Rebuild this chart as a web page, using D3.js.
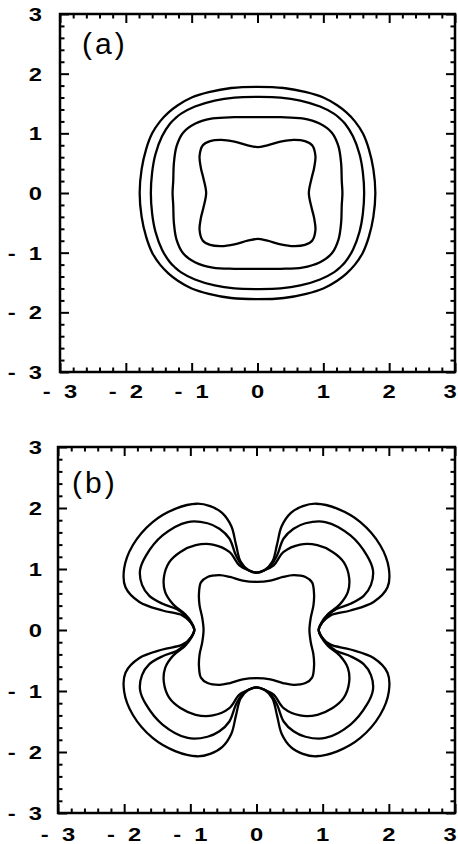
<!DOCTYPE html>
<html>
<head>
<meta charset="utf-8">
<script src="https://cdn.jsdelivr.net/npm/d3@7"></script>
<style>
  body { margin: 0; background: #fff; }
  svg { display: block; }
</style>
</head>
<body>
<svg id="chart" width="458" height="844"></svg>
<script>
// Axis ticks and labels (both panels share the same range -3..3)
const majorTicks = [-3, -2, -1, 0, 1, 2, 3];
const tickLabels = ["-  3", "-  2", "-  1", "0", "1", "2", "3"];
const panelLabels = ["(a)", "(b)"];

// Contour curves, first quadrant only, listed from the +y axis round to the +x axis.
// The full closed curve is obtained by reflecting about both axes.

// Panel (a): four nested rounded contours
const aContour1 = [[0, 0.77], [0.15, 0.80], [0.35, 0.86], [0.55, 0.89], [0.72, 0.87], [0.83, 0.80],
                   [0.88, 0.62], [0.86, 0.42], [0.82, 0.24], [0.78, 0]];
const aContour2 = [[0, 1.27], [0.35, 1.27], [0.68, 1.25], [0.95, 1.16], [1.13, 1.01], [1.23, 0.78],
                   [1.27, 0.50], [1.28, 0.20], [1.29, 0]];
const aContour3 = [[0, 1.61], [0.35, 1.60], [0.65, 1.55], [0.95, 1.45], [1.16, 1.33], [1.25, 1.25],
                   [1.33, 1.16], [1.45, 0.95], [1.55, 0.65], [1.60, 0.35], [1.62, 0]];
const aContour4 = [[0, 1.78], [0.40, 1.76], [0.74, 1.69], [1.00, 1.60], [1.21, 1.47], [1.35, 1.35],
                   [1.48, 1.20], [1.60, 1.00], [1.69, 0.74], [1.76, 0.40], [1.79, 0]];

// Panel (b): inner contour plus three four-lobed contours pinched on the axes
const bContour1 = [[0, 0.79], [0.21, 0.81], [0.40, 0.87], [0.56, 0.90], [0.74, 0.87], [0.84, 0.78],
                   [0.87, 0.58], [0.86, 0.40], [0.82, 0.20], [0.80, 0]];
const bContour2 = [[0, 0.94], [0.12, 0.98], [0.26, 1.06], [0.41, 1.28], [0.66, 1.40], [0.92, 1.39],
                   [1.15, 1.28], [1.32, 1.11], [1.40, 0.86], [1.38, 0.62], [1.26, 0.42], [1.08, 0.26],
                   [0.98, 0.12], [0.94, 0]];
const bContour3 = [[0, 0.94], [0.12, 0.98], [0.22, 1.06], [0.31, 1.22], [0.41, 1.50], [0.56, 1.66],
                   [0.74, 1.75], [1.04, 1.77], [1.42, 1.55], [1.67, 1.22], [1.76, 0.98], [1.73, 0.74],
                   [1.62, 0.56], [1.42, 0.43], [1.20, 0.34], [1.06, 0.22], [0.98, 0.10], [0.94, 0]];
const bContour4 = [[0, 0.94], [0.12, 0.98], [0.24, 1.12], [0.31, 1.40], [0.38, 1.70], [0.52, 1.92],
                   [0.70, 2.03], [0.90, 2.07], [1.22, 1.99], [1.57, 1.77], [1.87, 1.39], [2.00, 1.01],
                   [1.98, 0.70], [1.77, 0.46], [1.42, 0.32], [1.12, 0.24], [0.99, 0.12], [0.94, 0]];

// Build a closed loop from a first-quadrant arc by reflection.
function fullLoop(q) {
  const q1 = q;
  const q4 = q.slice().reverse().map(([x, y]) => [x, -y]).slice(1);
  const q3 = q.map(([x, y]) => [-x, -y]).slice(1);
  const q2 = q.slice().reverse().map(([x, y]) => [-x, y]).slice(1, -1);
  return q1.concat(q4, q3, q2);
}

const svg = d3.select("#chart");
const minorTicks = d3.range(-15, 16).map(i => i / 5).filter(v => !Number.isInteger(v));

const panels = [
  { left: 60, right: 455, top: 14, bottom: 372, xLabelY: 398,
    curves: [aContour1, aContour2, aContour3, aContour4],
    label: panelLabels[0], labelX: 82, labelY: 54 },
  { left: 58, right: 455, top: 447, bottom: 813, xLabelY: 841,
    curves: [bContour1, bContour2, bContour3, bContour4],
    label: panelLabels[1], labelX: 72, labelY: 493 }
];

const tickFont = "'Liberation Sans', Arial, Helvetica, sans-serif";

panels.forEach(p => {
  const x = d3.scaleLinear().domain([-3, 3]).range([p.left, p.right]);
  const y = d3.scaleLinear().domain([-3, 3]).range([p.bottom, p.top]);
  const g = svg.append("g");

  const line = d3.line()
    .x(d => x(d[0]))
    .y(d => y(d[1]))
    .curve(d3.curveCatmullRomClosed.alpha(0.5));

  g.selectAll("path.contour")
    .data(p.curves)
    .join("path")
    .attr("class", "contour")
    .attr("d", d => line(fullLoop(d)))
    .attr("fill", "none")
    .attr("stroke", "#000")
    .attr("stroke-width", 2.3)
    .attr("stroke-linejoin", "round");

  // Inward ticks on all four sides: majors every 1, minors every 0.2
  const axes = [
    [d3.axisBottom(x), p.bottom, "y"],
    [d3.axisTop(x), p.top, "y"],
    [d3.axisLeft(y), p.left, "x"],
    [d3.axisRight(y), p.right, "x"]
  ];
  axes.forEach(([axis, pos, dir]) => {
    [[majorTicks, 9], [minorTicks, 4.5]].forEach(([vals, len]) => {
      const a = g.append("g")
        .attr("transform", dir === "y" ? `translate(0,${pos})` : `translate(${pos},0)`)
        .call(axis.tickValues(vals).tickSize(-len).tickSizeOuter(0).tickFormat(""));
      a.select(".domain").remove();
      a.selectAll(".tick line").attr("stroke", "#000").attr("stroke-width", 2);
    });
  });

  g.append("rect")
    .attr("x", p.left).attr("y", p.top)
    .attr("width", p.right - p.left).attr("height", p.bottom - p.top)
    .attr("fill", "none").attr("stroke", "#000").attr("stroke-width", 2.5);

  // Tick labels along the bottom; the last one is kept inside the page edge
  g.selectAll("text.xlab")
    .data(majorTicks)
    .join("text")
    .attr("class", "xlab")
    .attr("transform", d => `translate(${Math.min(x(d), 450)},${p.xLabelY}) scale(1.25,1)`)
    .attr("text-anchor", "middle")
    .attr("xml:space", "preserve")
    .style("white-space", "pre")
    .attr("font-family", tickFont)
    .attr("font-size", "19px")
    .attr("font-weight", "bold")
    .text((d, i) => tickLabels[i]);

  g.selectAll("text.ylab")
    .data(majorTicks)
    .join("text")
    .attr("class", "ylab")
    .attr("transform", d => `translate(42,${y(d)}) scale(1.25,1)`)
    .attr("dy", "0.36em")
    .attr("text-anchor", "end")
    .attr("xml:space", "preserve")
    .style("white-space", "pre")
    .attr("font-family", tickFont)
    .attr("font-size", "19px")
    .attr("font-weight", "bold")
    .text((d, i) => tickLabels[i]);

  g.append("text")
    .attr("x", p.labelX)
    .attr("y", p.labelY)
    .attr("font-family", "'Liberation Sans', Arial, sans-serif")
    .attr("font-size", "30px")
    .attr("letter-spacing", "3px")
    .text(p.label);
});
</script>
</body>
</html>
